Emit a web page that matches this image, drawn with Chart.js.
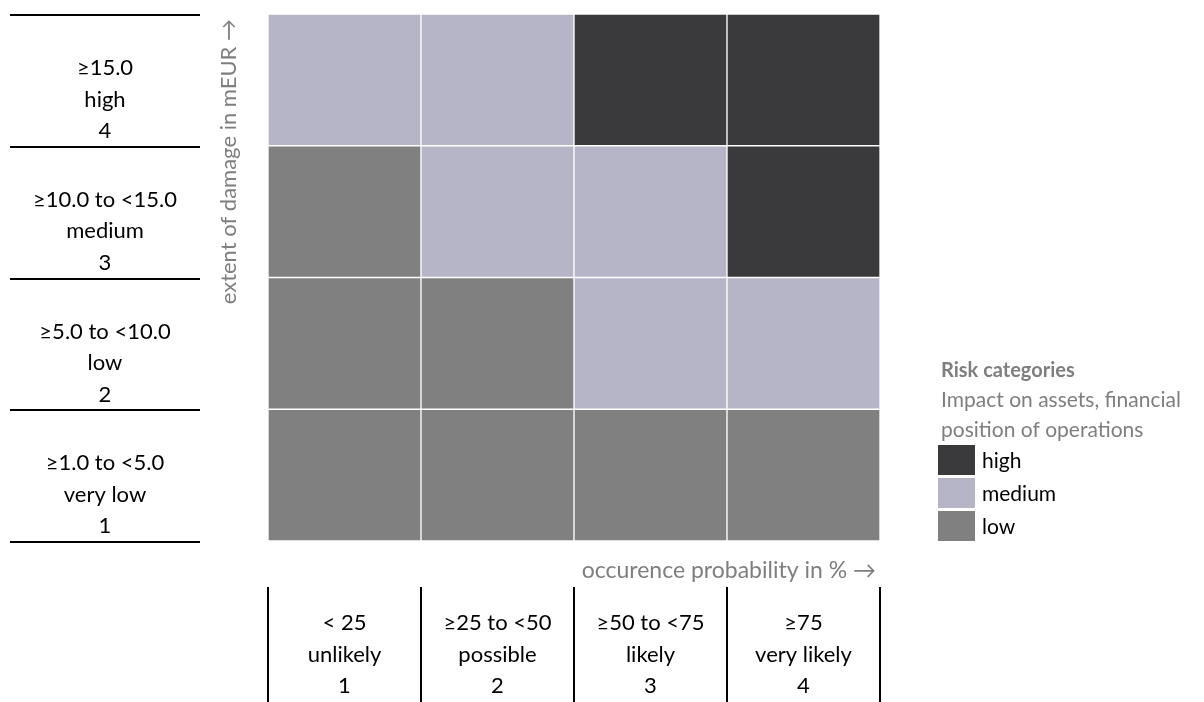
<!DOCTYPE html>
<html>
<head>
<meta charset="utf-8">
<script src="https://cdn.jsdelivr.net/npm/chart.js@4/dist/chart.umd.min.js"></script>
<style>
html, body { margin: 0; padding: 0; background: #fff; }
#wrap { width: 1204px; height: 702px; }
</style>
</head>
<body>
<div id="wrap"><canvas id="myChart"></canvas></div>
<script>
// Risk matrix: occurrence probability (x) vs extent of damage (y)

const probLabels = [            // columns, left to right
    ['< 25', 'unlikely', '1'],
    ['≥25 to <50', 'possible', '2'],
    ['≥50 to <75', 'likely', '3'],
    ['≥75', 'very likely', '4']
];
const damageLabels = [          // rows, bottom to top
    ['≥1.0 to <5.0', 'very low', '1'],
    ['≥5.0 to <10.0', 'low', '2'],
    ['≥10.0 to <15.0', 'medium', '3'],
    ['≥15.0', 'high', '4']
];

// risk category of each cell, one array per damage row
const rowVeryLow = ['low', 'low', 'low', 'low'];
const rowLow     = ['low', 'low', 'medium', 'medium'];
const rowMedium  = ['low', 'medium', 'medium', 'high'];
const rowHigh    = ['medium', 'medium', 'high', 'high'];
const riskRows = [rowVeryLow, rowLow, rowMedium, rowHigh];

const riskNames = ['high', 'medium', 'low'];
const riskColors = { high: '#3a393b', medium: '#b6b5c8', low: '#808080' };

const FONT = 'Lato, "Liberation Sans", sans-serif';
const GREY = '#7f7f7f';
const LINE_GAP = 31.5;

const tablesPlugin = {
    id: 'tables',
    afterDraw(chart) {
        const ctx = chart.ctx;
        const area = chart.chartArea;
        const x = chart.scales.x;
        const y = chart.scales.y;
        ctx.save();
        ctx.textAlign = 'center';
        ctx.textBaseline = 'alphabetic';
        ctx.font = '22px ' + FONT;
        ctx.fillStyle = '#000';
        ctx.strokeStyle = '#000';
        ctx.lineWidth = 2;

        // left table (damage)
        for (let i = 0; i <= damageLabels.length; i++) {
            const py = Math.round(y.getPixelForValue(i)) + 1;
            ctx.beginPath();
            ctx.moveTo(10, py);
            ctx.lineTo(200, py);
            ctx.stroke();
        }
        damageLabels.forEach((lines, i) => {
            const top = y.getPixelForValue(i + 1);
            lines.forEach((t, k) => ctx.fillText(t, 105, top + 61 + k * LINE_GAP));
        });

        // bottom table (probability)
        const colW = (area.right - area.left) / probLabels.length;
        for (let j = 0; j <= probLabels.length; j++) {
            const px = Math.round(area.left + j * colW);
            ctx.beginPath();
            ctx.moveTo(px, 587);
            ctx.lineTo(px, 702);
            ctx.stroke();
        }
        probLabels.forEach((lines, j) => {
            const cx = x.getPixelForValue(j);
            lines.forEach((t, k) => ctx.fillText(t, cx, area.bottom + 89 + k * LINE_GAP));
        });

        // axis titles
        ctx.fillStyle = GREY;
        ctx.textAlign = 'right';
        ctx.font = '23px ' + FONT;
        ctx.fillText('occurence probability in % →', area.right - 4, area.bottom + 37);
        ctx.font = '22px ' + FONT;
        ctx.save();
        ctx.translate(236, 19);
        ctx.rotate(-Math.PI / 2);
        ctx.fillText('extent of damage in mEUR →', 0, 0);
        ctx.restore();

        // legend
        ctx.textAlign = 'left';
        ctx.font = 'bold 20px ' + FONT;
        ctx.fillText('Risk categories', 941, 377);
        ctx.font = '21px ' + FONT;
        ctx.fillText('Impact on assets, financial', 941, 407);
        ctx.fillText('position of operations', 941, 437);
        riskNames.forEach((name, i) => {
            const by = 445 + i * 33;
            ctx.fillStyle = riskColors[name];
            ctx.fillRect(938, by, 37, 30);
            ctx.fillStyle = '#000';
            ctx.fillText(name, 982, by + 23);
        });
        ctx.restore();
    }
};

function createChart() {
    const ctx = document.getElementById('myChart');
    new Chart(ctx, {
        type: 'bar',
        data: {
            labels: probLabels.map(l => l[2]),
            datasets: riskRows.map((row, i) => ({
                label: damageLabels[i][1],
                data: row.map(() => 1),
                backgroundColor: row.map(c => riskColors[c]),
                borderColor: '#ffffff',
                borderWidth: 1,
                borderSkipped: false,
                categoryPercentage: 1,
                barPercentage: 1
            }))
        },
        options: {
            responsive: true,
            maintainAspectRatio: false,
            animation: false,
            layout: { padding: { left: 268, right: 324, top: 14, bottom: 161 } },
            scales: {
                x: { stacked: true, display: false },
                y: { stacked: true, display: false, min: 0, max: damageLabels.length }
            },
            plugins: {
                legend: { display: false },
                tooltip: { enabled: false }
            }
        },
        plugins: [tablesPlugin]
    });
}

createChart();
</script>
</body>
</html>
